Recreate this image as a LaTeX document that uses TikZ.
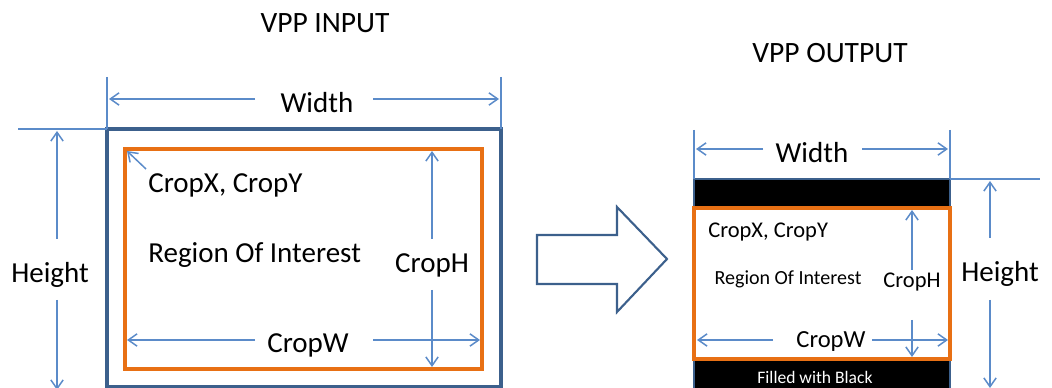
\documentclass[tikz,border=0pt]{standalone}
\usepackage{fontspec}
\setmainfont{Carlito}
\usetikzlibrary{arrows.meta}
\definecolor{dimblue}{RGB}{91,139,201}
\definecolor{boxblue}{RGB}{60,96,140}
\definecolor{roiorange}{RGB}{232,112,20}

\begin{document}
\begin{tikzpicture}[x=0.02cm,y=-0.02cm]
	\tikzstyle{dim} = [draw=dimblue,line width=0.85pt,-{Straight Barb[length=5pt,width=7pt]}]
	\tikzstyle{ext} = [draw=dimblue,line width=0.85pt]
	\tikzstyle{big} = [anchor=base,inner sep=0pt,font=\fontsize{16.5}{19}\selectfont]
	\tikzstyle{small} = [anchor=base,inner sep=0pt,font=\fontsize{12.8}{15}\selectfont]
	\tikzstyle{title} = [anchor=base,inner sep=0pt,font=\fontsize{16.8}{19}\selectfont]
	
	\useasboundingbox (0,0) rectangle (1052,388);
	
	% input frame
	\draw[boxblue,line width=1.8pt] (107,129) rectangle (501,387);
	\draw[roiorange,line width=2pt] (125,149) rectangle (482,369);
	
	\node[title](tin) at (325,33) {VPP INPUT};
	\node[big](inw) at (317,113) {Width};
	\node[big](inh) at (50,283) {Height};
	\node[big,anchor=base west](inxy) at (148,193) {CropX, CropY};
	\node[big,anchor=base west](inroi) at (148,263) {Region Of Interest};
	\node[big](inch) at (432,273) {CropH};
	\node[big](incw) at (308,353) {CropW};
	
	\coordinate (ie-1) at (107,77);
	\coordinate (ie-2) at (107,129);
	\coordinate (ie-3) at (501,77);
	\coordinate (ie-4) at (501,129);
	\coordinate (ie-5) at (18,129);
	\path (ie-1) edge[ext] (ie-2)
	(ie-3) edge[ext] (ie-4)
	(ie-5) edge[ext] (ie-2);
	
	\coordinate (iw-1) at (255,99);
	\coordinate (iw-2) at (109,99);
	\coordinate (iw-3) at (373,99);
	\coordinate (iw-4) at (499,99);
	\coordinate (ih-1) at (57,239);
	\coordinate (ih-2) at (57,131);
	\coordinate (ih-3) at (57,300);
	\coordinate (ih-4) at (57,390);
	\coordinate (ixy-1) at (146,169);
	\coordinate (ixy-2) at (127,151);
	\coordinate (ich-1) at (432,239);
	\coordinate (ich-2) at (432,151);
	\coordinate (ich-3) at (432,290);
	\coordinate (ich-4) at (432,367);
	\coordinate (icw-1) at (255,340);
	\coordinate (icw-2) at (127,340);
	\coordinate (icw-3) at (373,340);
	\coordinate (icw-4) at (480,340);
	
	\foreach \a/\b in {iw-1/iw-2,iw-3/iw-4,ih-1/ih-2,ih-3/ih-4,ixy-1/ixy-2,
		ich-1/ich-2,ich-3/ich-4,icw-1/icw-2,icw-3/icw-4}{
		\path (\a) edge[dim] (\b);
	};
	
	% arrow between
	\draw[boxblue,line width=1.2pt,line join=miter] (537,235) -- (617,235) -- (617,207) -- (667,259)
	-- (617,312) -- (617,284) -- (537,284) -- cycle;
	
	% output frame
	\fill[black] (694,179) rectangle (950,208);
	\fill[black] (694,359) rectangle (950,395);
	\draw[boxblue,line width=1pt] (694,179) rectangle (950,395);
	\draw[roiorange,line width=2pt] (694,208) rectangle (950,359);
	
	\node[title](tout) at (830,63) {VPP OUTPUT};
	\node[big](outw) at (812,163) {Width};
	\node[big](outh) at (1000,282) {Height};
	\node[small,anchor=base west](outxy) at (708,238) {CropX, CropY};
	\node[anchor=base,inner sep=0pt,font=\fontsize{11.4}{13}\selectfont](outroi) at (788,285) {Region Of Interest};
	\node[small](outch) at (912,288) {CropH};
	\node[small,font=\fontsize{14}{16}\selectfont](outcw) at (831,348) {CropW};
	\node[anchor=base,inner sep=0pt,text=white,font=\fontsize{10}{12}\selectfont](fill) at (815,383) {Filled with Black};
	
	\coordinate (oe-1) at (694,130);
	\coordinate (oe-2) at (694,179);
	\coordinate (oe-3) at (950,130);
	\coordinate (oe-4) at (950,179);
	\coordinate (oe-5) at (1040,179);
	\path (oe-1) edge[ext] (oe-2)
	(oe-3) edge[ext] (oe-4)
	(oe-4) edge[ext] (oe-5);
	
	\coordinate (ow-1) at (763,149);
	\coordinate (ow-2) at (696,149);
	\coordinate (ow-3) at (862,149);
	\coordinate (ow-4) at (948,149);
	\coordinate (oh-1) at (990,238);
	\coordinate (oh-2) at (990,181);
	\coordinate (oh-3) at (990,300);
	\coordinate (oh-4) at (990,388);
	\coordinate (och-1) at (912,270);
	\coordinate (och-2) at (912,210);
	\coordinate (och-3) at (912,320);
	\coordinate (och-4) at (912,357);
	\coordinate (ocw-1) at (773,340);
	\coordinate (ocw-2) at (697,340);
	\coordinate (ocw-3) at (872,340);
	\coordinate (ocw-4) at (948,340);
	
	\foreach \a/\b in {ow-1/ow-2,ow-3/ow-4,oh-1/oh-2,oh-3/oh-4,
		och-1/och-2,och-3/och-4,ocw-1/ocw-2,ocw-3/ocw-4}{
		\path (\a) edge[dim] (\b);
	};
\end{tikzpicture}
\end{document}
